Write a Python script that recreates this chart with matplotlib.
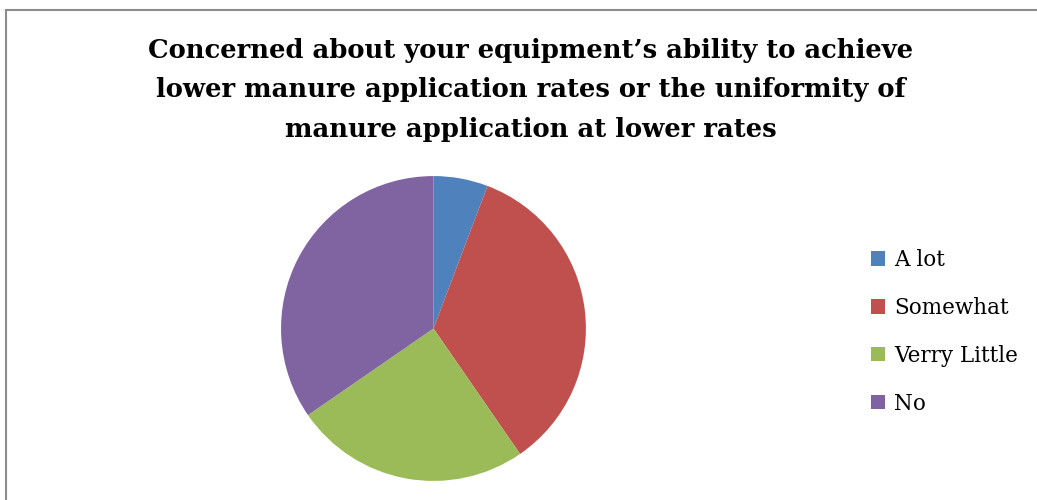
import matplotlib.pyplot as plt
from matplotlib.patches import Patch
from matplotlib.lines import Line2D

# Данные диаграммы
labels = ['A lot', 'Somewhat', 'Verry Little', 'No']
counts = [3, 18, 13, 18]
colors = ['#4F81BD', '#C0504D', '#9BBB59', '#8064A2']

title = ("Concerned about your equipment\u2019s ability to achieve\n"
         "lower manure application rates or the uniformity of\n"
         "manure application at lower rates")

fig = plt.figure(figsize=(10.37, 5), dpi=100)

# Рамка области диаграммы (видны только левая и верхняя стороны)
fig.add_artist(Line2D([0.0055, 0.0055], [0.0, 0.98], transform=fig.transFigure,
                      color='#8C8C8C', lw=1.5))
fig.add_artist(Line2D([0.0055, 1.0], [0.98, 0.98], transform=fig.transFigure,
                      color='#8C8C8C', lw=1.5))

ax = fig.add_axes([0.271, 0.038, 0.294, 0.61])
ax.pie(counts, colors=colors, startangle=90, counterclock=False,
       wedgeprops=dict(linewidth=0))
ax.set_xlim(-1, 1)
ax.set_ylim(-1, 1)
ax.set_aspect('equal')

fig.text(0.512, 0.82, title, ha='center', va='center', fontsize=18.6,
         fontweight='bold', family='DejaVu Serif', linespacing=1.72)

handles = [Patch(facecolor=c, edgecolor='none') for c in colors]
fig.legend(handles, labels, loc='upper left', bbox_to_anchor=(0.832, 0.519),
           frameon=False, prop={'family': 'DejaVu Serif', 'size': 15.5},
           handlelength=0.65, handleheight=0.65, handletextpad=0.42,
           labelspacing=1.2, borderaxespad=0)

fig.savefig('out.png', dpi=100)
